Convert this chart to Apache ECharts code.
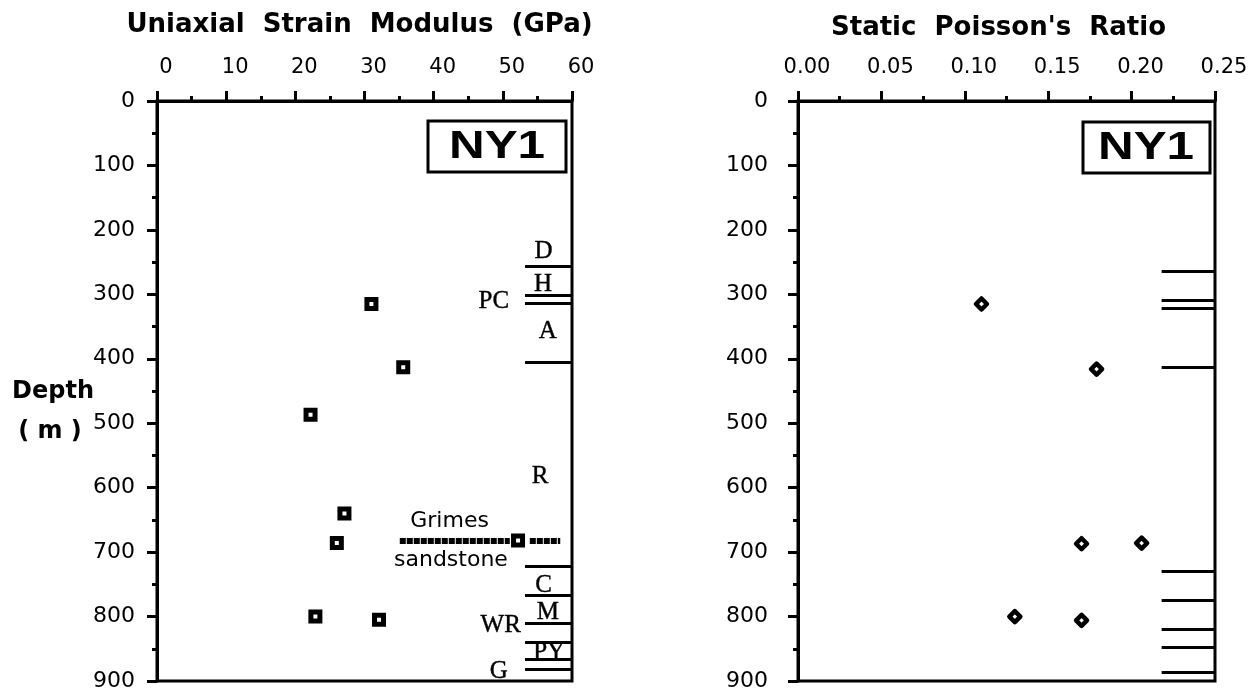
<!DOCTYPE html>
<html>
<head>
<meta charset="utf-8">
<script src="https://cdn.jsdelivr.net/npm/echarts@6/dist/echarts.min.js"></script>
<style>
html,body{margin:0;padding:0;background:#fff;}
#chart{width:1254px;height:692px;}
</style>
</head>
<body>
<div id="chart"></div>
<script>
// ---- data ----
const modulusTicks = [0, 10, 20, 30, 40, 50, 60];
const poissonTicks = [0.00, 0.05, 0.10, 0.15, 0.20, 0.25];
const depthTicks = [0, 100, 200, 300, 400, 500, 600, 700, 800, 900];

const modulusValues = [31.0, 35.6, 22.2, 27.1, 26.0, 22.9, 32.1, 52.2];
const modulusDepths = [315, 413, 487, 640, 686, 800, 805, 682];

const poissonValues = [0.110, 0.179, 0.170, 0.206, 0.130, 0.170];
const poissonDepths = [315, 416, 687, 686, 800, 806];

const formationLineDepthsLeft = [257, 302, 314, 406, 722, 767, 811, 840, 866, 882];
const formationLineDepthsRight = [264, 309, 321, 413, 729, 775, 819, 848, 886];

const formationNames = ['D', 'H', 'PC', 'A', 'R', 'C', 'M', 'WR', 'PY', 'G'];
const formationLabelModulus = [55.9, 55.8, 48.7, 56.5, 55.4, 55.9, 56.5, 49.7, 56.7, 49.4];
const formationLabelDepths = [234, 285, 311, 358, 582, 752, 794, 814, 856, 885];

const grimesNames = ['Grimes', 'sandstone'];
const grimesLabelModulus = [42.3, 42.5];
const grimesLabelDepths = [652, 713];
const grimesDepth = 682;
const grimesSegments = [[35.1, 51.0], [53.9, 58.3]];

// ---- chart ----
const BLACK = '#000';
const sans = 'DejaVu Sans';
const lineStartLeft = 53.2;
const lineStartRight = 0.218;

function xAxisBase(ticks, grid, name, nameSize, nameGap, fmt, namePad) {
  return {
    type: 'value', gridIndex: grid, position: 'top',
    min: ticks[0], max: ticks[ticks.length - 1], interval: ticks[1] - ticks[0],
    name: name, nameLocation: 'middle', nameGap: nameGap,
    nameTextStyle: { fontFamily: sans, fontWeight: 'bold', fontSize: nameSize, color: BLACK, padding: namePad },
    axisLine: { show: true, lineStyle: { color: BLACK, width: 3 } },
    axisTick: { show: true, inside: false, length: 10, lineStyle: { color: BLACK, width: 3 } },
    minorTick: { show: true, splitNumber: 2, length: 5, lineStyle: { color: BLACK, width: 3 } },
    axisLabel: { color: BLACK, fontFamily: sans, fontSize: 21, margin: 23, padding: [0, 0, 0, 18], formatter: fmt },
    splitLine: { show: false }, minorSplitLine: { show: false }
  };
}
function yAxisBase(grid, margin) {
  return {
    type: 'value', gridIndex: grid, inverse: true,
    min: depthTicks[0], max: depthTicks[depthTicks.length - 1], interval: depthTicks[1] - depthTicks[0],
    axisLine: { show: true, lineStyle: { color: BLACK, width: 3 } },
    axisTick: { show: true, inside: false, length: 10, lineStyle: { color: BLACK, width: 3 } },
    minorTick: { show: true, splitNumber: 2, length: 5, lineStyle: { color: BLACK, width: 3 } },
    axisLabel: { color: BLACK, fontFamily: sans, fontSize: 22, margin: margin, padding: [0, 0, 14, 0] },
    splitLine: { show: false }
  };
}

const leftLines = formationLineDepthsLeft.map(d => [{ coord: [lineStartLeft, d] }, { coord: [modulusTicks[modulusTicks.length - 1], d] }]);
const rightLines = formationLineDepthsRight.map(d => [{ coord: [lineStartRight, d] }, { coord: [poissonTicks[poissonTicks.length - 1], d] }]);
const grimesLines = grimesSegments.map(s => [{ coord: [s[0], grimesDepth] }, { coord: [s[1], grimesDepth] }]);

const option = {
  animation: false,
  backgroundColor: '#fff',
  grid: [
    { left: 157, top: 101, width: 415, height: 588, show: true, borderColor: BLACK, borderWidth: 3, backgroundColor: 'transparent' },
    { left: 798, top: 101, width: 417, height: 588, show: true, borderColor: BLACK, borderWidth: 3, backgroundColor: 'transparent' }
  ],
  xAxis: [
    xAxisBase(modulusTicks, 0, 'Uniaxial  Strain  Modulus  (GPa)', 26, 63, v => String(v), [0, 10, 0, 0]),
    xAxisBase(poissonTicks, 1, "Static  Poisson's  Ratio", 26, 60, v => v.toFixed(2), [0, 16, 0, 0])
  ],
  yAxis: [yAxisBase(0, 22), yAxisBase(1, 30)],
  series: [
    {
      type: 'line', xAxisIndex: 0, yAxisIndex: 0, data: [], silent: true,
      markLine: {
        silent: true, symbol: ['none', 'none'], label: { show: false }, animation: false,
        lineStyle: { color: BLACK, width: 3, type: 'solid', opacity: 1 },
        data: leftLines
      }
    },
    {
      type: 'line', xAxisIndex: 0, yAxisIndex: 0, data: [], silent: true,
      markLine: {
        silent: true, symbol: ['none', 'none'], label: { show: false }, animation: false,
        lineStyle: { color: BLACK, width: 6, type: [6, 1], opacity: 1 },
        data: grimesLines
      }
    },
    {
      type: 'line', xAxisIndex: 1, yAxisIndex: 1, data: [], silent: true,
      markLine: {
        silent: true, symbol: ['none', 'none'], label: { show: false }, animation: false,
        lineStyle: { color: BLACK, width: 3, type: 'solid', opacity: 1 },
        data: rightLines
      }
    },
    {
      type: 'scatter', xAxisIndex: 0, yAxisIndex: 0, symbol: 'rect', symbolSize: 9, z: 5,
      itemStyle: { color: '#fff', borderColor: BLACK, borderWidth: 5, opacity: 1 },
      data: modulusValues.map((v, i) => [v, modulusDepths[i]])
    },
    {
      type: 'scatter', xAxisIndex: 1, yAxisIndex: 1, symbol: 'diamond', symbolSize: 11, z: 5,
      itemStyle: { color: '#fff', borderColor: BLACK, borderWidth: 4.5, borderJoin: 'round', opacity: 1 },
      data: poissonValues.map((v, i) => [v, poissonDepths[i]])
    },
    {
      type: 'scatter', xAxisIndex: 0, yAxisIndex: 0, symbolSize: 1, silent: true, z: 6,
      itemStyle: { color: 'rgba(0,0,0,0)', opacity: 1 },
      label: { show: true, position: 'inside', formatter: p => p.name, color: BLACK, opacity: 1, fontFamily: 'Liberation Serif', fontSize: 25, textBorderColor: BLACK, textBorderWidth: 0.4 },
      data: formationNames.map((n, i) => ({ name: n, value: [formationLabelModulus[i], formationLabelDepths[i]] }))
    },
    {
      type: 'scatter', xAxisIndex: 0, yAxisIndex: 0, symbolSize: 1, silent: true, z: 6,
      itemStyle: { color: 'rgba(0,0,0,0)', opacity: 1 },
      label: { show: true, position: 'inside', formatter: p => p.name, color: BLACK, opacity: 1, fontFamily: sans, fontSize: 22 },
      data: grimesNames.map((n, i) => ({ name: n, value: [grimesLabelModulus[i], grimesLabelDepths[i]] }))
    }
  ],
  graphic: [
    { type: 'rect', shape: { x: 428, y: 121, width: 138, height: 51 }, style: { fill: '#fff', stroke: BLACK, lineWidth: 3 }, z: 10 },
    { type: 'text', x: 497, y: 148, scaleX: 1.3, style: { text: 'NY1', fontFamily: 'Liberation Sans', fontWeight: 'bold', fontSize: 38, fill: BLACK, align: 'center', verticalAlign: 'middle' }, z: 11 },
    { type: 'rect', shape: { x: 1083, y: 122, width: 127, height: 51 }, style: { fill: '#fff', stroke: BLACK, lineWidth: 3 }, z: 10 },
    { type: 'text', x: 1146, y: 149, scaleX: 1.3, style: { text: 'NY1', fontFamily: 'Liberation Sans', fontWeight: 'bold', fontSize: 38, fill: BLACK, align: 'center', verticalAlign: 'middle' }, z: 11 },
    { type: 'text', x: 53, y: 392, style: { text: 'Depth', fontFamily: sans, fontWeight: 'bold', fontSize: 24, fill: BLACK, align: 'center', verticalAlign: 'middle' } },
    { type: 'text', x: 50, y: 432, style: { text: '( m )', fontFamily: sans, fontWeight: 'bold', fontSize: 24, fill: BLACK, align: 'center', verticalAlign: 'middle' } }
  ]
};

const chart = echarts.init(document.getElementById('chart'), null, { renderer: 'canvas' });
chart.setOption(option);
</script>
</body>
</html>
